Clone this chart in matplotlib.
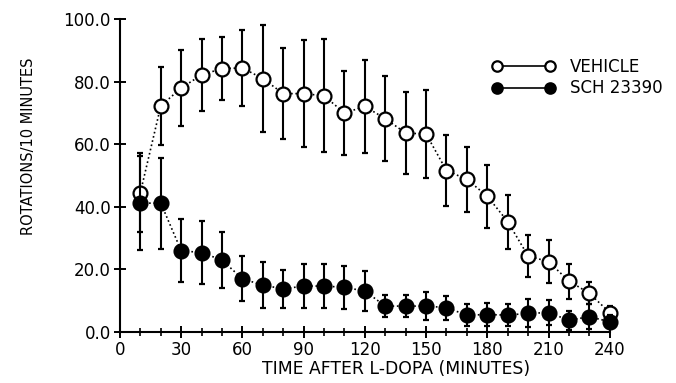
import matplotlib
matplotlib.use("Agg")
import matplotlib.pyplot as plt
from matplotlib.lines import Line2D
import numpy as np

# time after L-DOPA (minutes)
time = np.arange(10, 250, 10)

# vehicle group (open circles)
vehicle = [44.6, 72.3, 78.0, 82.2, 84.2, 84.4, 81.0, 76.2, 76.2, 75.5, 70.0, 72.1,
           68.2, 63.6, 63.3, 51.6, 48.8, 43.4, 35.3, 24.3, 22.5, 16.3, 12.4, 6.2]
vehicle_err = [12.5, 12.5, 12.0, 11.5, 10.0, 12.0, 17.0, 14.5, 17.0, 18.0, 13.3, 14.8,
               13.5, 13.2, 14.0, 11.4, 10.4, 10.0, 8.6, 6.6, 6.8, 5.6, 3.5, 2.0]

# SCH 23390 group (filled circles)
sch = [41.2, 41.2, 26.0, 25.4, 23.0, 17.0, 15.0, 13.8, 14.7, 14.7, 14.3, 13.1,
       8.3, 8.3, 8.3, 7.8, 5.4, 5.6, 5.4, 6.0, 6.2, 3.8, 4.9, 3.3]
sch_err = [15.0, 14.5, 10.0, 10.0, 9.0, 7.2, 7.4, 6.1, 7.0, 7.0, 6.9, 6.5,
           3.5, 3.5, 4.4, 3.8, 3.5, 3.7, 3.5, 4.5, 4.0, 3.0, 4.0, 2.0]

plt.rcParams['font.family'] = ['DejaVu Sans']

fig = plt.figure(figsize=(6.76, 3.83), dpi=100)
ax = fig.add_axes([0.1775, 0.133, 0.7245, 0.817])

dots = (0, (1, 1.6))
ax.errorbar(time, vehicle, yerr=vehicle_err, fmt='o', color='black', ecolor='black',
            elinewidth=1.5, capsize=2, capthick=1.3, markersize=10, markerfacecolor='white',
            markeredgewidth=1.6, linestyle=dots, linewidth=1.2, clip_on=False, zorder=2)
ax.errorbar(time, sch, yerr=sch_err, fmt='o', color='black', ecolor='black',
            elinewidth=1.5, capsize=2, capthick=1.3, markersize=10, markerfacecolor='black',
            markeredgewidth=1.6, linestyle=dots, linewidth=1.2, clip_on=False, zorder=3)

ax.set_xlim(0, 240)
ax.set_ylim(0, 100)
ax.spines['top'].set_visible(False)
ax.spines['right'].set_visible(False)
ax.spines['left'].set_linewidth(1.5)
ax.spines['bottom'].set_linewidth(1.5)

ax.set_xticks(np.arange(0, 241, 30))
ax.set_xticks(np.arange(0, 241, 10), minor=True)
ax.set_yticks(np.arange(0, 101, 20))
ax.set_yticklabels([f"{v:.1f}" for v in np.arange(0, 101, 20)])
ax.tick_params(axis='both', which='major', direction='inout', length=9, width=1.4,
               labelsize=12, pad=2)
ax.tick_params(axis='x', which='minor', direction='inout', length=6, width=1.2)

ax.set_xlabel('TIME AFTER L-DOPA (MINUTES)', fontsize=12.4)
ax.xaxis.set_label_coords(0.563, -0.09)
ax.set_ylabel('ROTATIONS/10 MINUTES', fontsize=10.5)
ax.yaxis.set_label_coords(-0.172, 0.595)

handles = [
    Line2D([], [], color='black', marker='o', markersize=7.5, markerfacecolor='white',
           markeredgewidth=1.6, linewidth=1.2),
    Line2D([], [], color='black', marker='o', markersize=7.5, markerfacecolor='black',
           markeredgewidth=1.6, linewidth=1.2),
]
ax.legend(handles, ['VEHICLE', 'SCH 23390'], loc='upper left',
          bbox_to_anchor=(0.76, 0.876), frameon=False, numpoints=2,
          handlelength=3.75, fontsize=12, labelspacing=0.21, handletextpad=0.9,
          borderpad=0, borderaxespad=0)

fig.savefig('out.png', dpi=100)
